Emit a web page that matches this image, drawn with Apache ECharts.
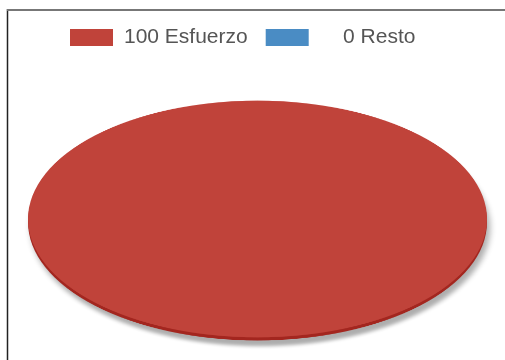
<!DOCTYPE html>
<html>
<head>
<meta charset="utf-8">
<script src="https://cdn.jsdelivr.net/npm/echarts@6/dist/echarts.min.js"></script>
<style>
  html, body { margin: 0; padding: 0; background: #fff; }
  #wrap { position: relative; width: 505px; height: 360px; overflow: hidden; }
  /* el pie se dibuja circular y se aplasta en vertical */
  #pieBox { position: absolute; left: 0; top: -131.5px; width: 505px; height: 700px;
            transform: scaleY(0.516); transform-origin: 50% 50%; }
  #main { position: absolute; left: 0; top: 0; width: 505px; height: 360px; }
</style>
</head>
<body>
<div id="wrap">
  <div id="pieBox"></div>
  <div id="main"></div>
</div>
<script>
// datos
var names = ["Esfuerzo", "Resto"];
var values = [100, 0];
var colors = ["#c0433a", "#4a8cc4"];
var rimColor = "#a3261f";

var legendFont = "21px 'Liberation Sans'";
var valueBox = 41; // ancho fijo, el numero va alineado a la derecha

function buildData(cols) {
  return names.map(function (n, i) {
    return { name: n, value: values[i], itemStyle: { color: cols[i] } };
  });
}

// medir el numero para alinearlo a la derecha
var ctx = document.createElement("canvas").getContext("2d");
ctx.font = legendFont;
var rich = {};
names.forEach(function (n, i) {
  var w = ctx.measureText(String(values[i])).width;
  rich["a" + i] = { padding: [0, 0, 0, Math.max(0, valueBox - w)] };
});

// capa del pie (escalada)
var pieChart = echarts.init(document.getElementById("pieBox"));
pieChart.setOption({
  animation: false,
  series: [
    {
      // borde inferior oscuro + sombra
      type: "pie",
      center: [257.5, 356],
      radius: 229.5,
      silent: true,
      label: { show: false },
      labelLine: { show: false },
      itemStyle: {
        borderWidth: 0,
        shadowColor: "rgba(0,0,0,0.32)",
        shadowBlur: 6,
        shadowOffsetX: 3,
        shadowOffsetY: 11,
      },
      data: buildData([rimColor, rimColor]),
    },
    {
      type: "pie",
      center: [257.5, 350],
      radius: 229.5,
      silent: true,
      label: { show: false },
      labelLine: { show: false },
      itemStyle: { borderWidth: 0 },
      data: buildData(colors),
    },
  ],
});

// capa de leyenda y marco
var myChart = echarts.init(document.getElementById("main"));
myChart.setOption({
  animation: false,
  legend: {
    left: 70,
    top: 27,
    itemWidth: 43,
    itemHeight: 17,
    itemGap: 18,
    padding: 0,
    selectedMode: false,
    icon: "rect",
    formatter: function (name) {
      var i = names.indexOf(name);
      return "{a" + i + "|" + values[i] + " " + name + "}";
    },
    textStyle: {
      fontFamily: "Liberation Sans",
      fontSize: 21,
      color: "#555",
      rich: rich,
    },
  },
  graphic: [
    { type: "line", shape: { x1: 7.5, y1: 9, x2: 7.5, y2: 360 }, style: { stroke: "#222", lineWidth: 1.5 } },
    { type: "line", shape: { x1: 7, y1: 10, x2: 505, y2: 10 }, style: { stroke: "#777", lineWidth: 2 } },
  ],
  series: [
    {
      type: "pie",
      radius: 0,
      silent: true,
      label: { show: false },
      labelLine: { show: false },
      data: buildData(colors),
    },
  ],
});
</script>
</body>
</html>
